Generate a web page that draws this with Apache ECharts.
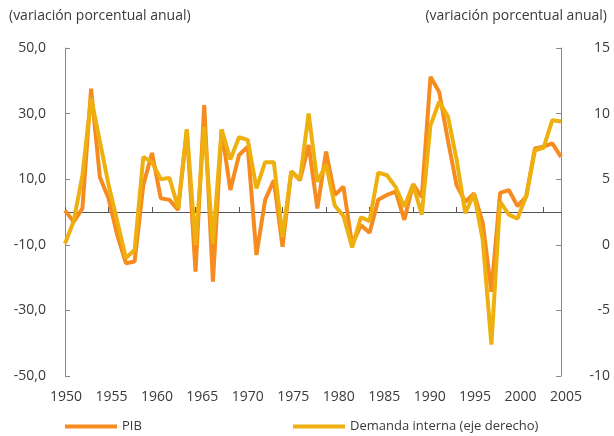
<!DOCTYPE html>
<html>
<head>
<meta charset="utf-8">
<script src="https://cdn.jsdelivr.net/npm/echarts@6/dist/echarts.min.js"></script>
<style>
  html, body { margin: 0; padding: 0; background: #fff; }
  #chart { width: 614px; height: 436px; }
</style>
</head>
<body>
<div id="chart"></div>
<script>
// años 1950-2007
var years = [];
for (var y = 1950; y <= 2007; y++) years.push(String(y));

// PIB, eje izquierdo (%)
var pib = [
  0.5, -3.0, 1.1, 37.6, 10.7, 4.2, -7.0, -15.6, -15.1, 8.2,
  18.0, 4.2, 3.7, 0.6, 25.0, -18.2, 32.6, -21.2, 25.0, 6.7,
  17.4, 19.9, -13.1, 3.7, 9.7, -10.6, 12.3, 9.7, 20.4, 1.1,
  18.4, 5.2, 7.7, -10.0, -4.0, -6.3, 3.7, 5.2, 6.2, -2.4,
  8.5, 4.5, 41.2, 36.6, 21.9, 8.2, 3.1, 5.7, -3.2, -24.3,
  5.8, 6.7, 1.8, 4.7, 19.4, 19.9, 20.9, 16.8
];

// Demanda interna, eje derecho (%)
var demanda = [
  0.1, 1.8, 5.3, 11.2, 7.9, 4.6, 1.8, -1.0, -0.4, 6.7,
  6.3, 5.0, 5.1, 2.8, 8.8, 0.0, 9.0, 0.1, 8.8, 6.5,
  8.2, 8.0, 4.3, 6.3, 6.3, 0.6, 5.6, 5.0, 10.0, 4.8,
  6.1, 3.0, 2.2, -0.2, 2.1, 1.8, 5.5, 5.3, 4.4, 2.9,
  4.6, 2.3, 9.1, 10.9, 9.8, 6.5, 2.4, 3.9, 0.4, -7.6,
  3.3, 2.3, 2.0, 3.7, 7.2, 7.4, 9.5, 9.4
];

var colorPib = "#F68B1F";
var colorDem = "#EDB00F";
var txt = "#3a3a3a";
var fontFam = "'Open Sans', sans-serif";

var chart = echarts.init(document.getElementById("chart"));

chart.setOption({
  animation: false,
  title: [
    { text: "(variación porcentual anual)", left: 4, top: 4,
      textStyle: { fontSize: 14, fontWeight: "normal", color: txt, fontFamily: fontFam } },
    { text: "(variación porcentual anual)", right: 2, top: 4,
      textStyle: { fontSize: 14, fontWeight: "normal", color: txt, fontFamily: fontFam } }
  ],
  legend: [
    { data: ["PIB"], left: 60, top: 415, itemWidth: 52, itemHeight: 4, icon: "rect", itemGap: 6,
      textStyle: { fontSize: 13, color: txt, fontFamily: fontFam } },
    { data: ["Demanda interna (eje derecho)"], left: 288, top: 415, itemWidth: 52, itemHeight: 4, icon: "rect",
      textStyle: { fontSize: 13, color: txt, fontFamily: fontFam } }
  ],
  grid: [
    { left: 65, right: 53, top: 48, bottom: 60 },
    // sólo para las etiquetas de años
    { left: 66, right: 48, top: 48, bottom: 60 }
  ],
  xAxis: [
    {
      type: "category",
      gridIndex: 0,
      data: years,
      boundaryGap: false,
      axisLine: { onZero: true, lineStyle: { color: "#555", width: 1 } },
      axisTick: { inside: true, length: 5, interval: function (i) { return i % 5 === 0; },
        lineStyle: { color: "#555" } },
      axisLabel: { show: false },
      splitLine: { show: false }
    },
    {
      type: "value",
      gridIndex: 1,
      min: 1950,
      max: 2005,
      interval: 5,
      axisLine: { show: false },
      axisTick: { show: false },
      splitLine: { show: false },
      axisLabel: { margin: 14, fontSize: 14, color: txt, fontFamily: fontFam,
        formatter: function (v) { return String(v); } }
    }
  ],
  yAxis: [
    {
      type: "value",
      gridIndex: 0,
      min: -50,
      max: 50,
      interval: 20,
      position: "left",
      axisLine: { show: true, onZero: false, lineStyle: { color: "#888" } },
      axisTick: { show: true, inside: true, length: 5, lineStyle: { color: "#888" } },
      splitLine: { show: false },
      axisLabel: { margin: 19, fontSize: 14, color: txt, fontFamily: fontFam,
        formatter: function (v) { return v.toFixed(1).replace(".", ","); } }
    },
    {
      type: "value",
      gridIndex: 0,
      min: -10,
      max: 15,
      interval: 5,
      position: "right",
      axisLine: { show: true, onZero: false, lineStyle: { color: "#888" } },
      axisTick: { show: true, inside: true, length: 5, lineStyle: { color: "#888" } },
      splitLine: { show: false },
      axisLabel: { margin: 49, align: "right", fontSize: 14, color: txt, fontFamily: fontFam }
    },
    {
      type: "value",
      gridIndex: 1,
      show: false
    }
  ],
  series: [
    {
      name: "PIB",
      type: "line",
      xAxisIndex: 0,
      yAxisIndex: 0,
      data: pib,
      symbol: "none",
      color: colorPib,
      lineStyle: { color: colorPib, width: 4 }
    },
    {
      name: "Demanda interna (eje derecho)",
      type: "line",
      xAxisIndex: 0,
      yAxisIndex: 1,
      data: demanda,
      symbol: "none",
      color: colorDem,
      lineStyle: { color: colorDem, width: 4 }
    }
  ]
});
</script>
</body>
</html>
